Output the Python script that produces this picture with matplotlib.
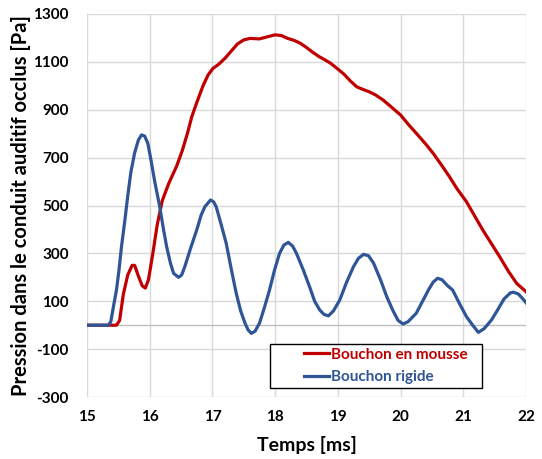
import matplotlib

matplotlib.use("Agg")
import matplotlib.pyplot as plt
from matplotlib.patches import Rectangle

# Bouchon en mousse (foam plug)
t_mousse = [15.0, 15.47, 15.52, 15.58, 15.65, 15.72, 15.76, 15.82, 15.88, 15.93, 15.98,
            16.05, 16.12, 16.2, 16.3, 16.43, 16.52, 16.6, 16.67, 16.75, 16.85, 16.93,
            17.01, 17.1, 17.2, 17.3, 17.4, 17.5, 17.6, 17.75, 17.88, 18.0, 18.1, 18.2,
            18.3, 18.4, 18.5, 18.6, 18.7, 18.77, 18.88, 19.0, 19.1, 19.2, 19.3, 19.4,
            19.5, 19.6, 19.72, 19.85, 20.0, 20.12, 20.25, 20.4, 20.52, 20.65, 20.78,
            20.9, 21.05, 21.18, 21.31, 21.45, 21.58, 21.72, 21.85, 22.0]
p_mousse = [0, 0, 20, 130, 210, 250, 250, 205, 165, 155, 190,
            300, 420, 520, 590, 665, 730, 800, 870, 930, 1000, 1045,
            1073, 1090, 1115, 1145, 1175, 1192, 1198, 1196, 1205, 1213, 1210, 1198,
            1190, 1178, 1160, 1140, 1122, 1112, 1095, 1070, 1048, 1020, 996, 985,
            975, 962, 941, 912, 878, 840, 802, 757, 718, 670, 620,
            570, 516, 457, 398, 340, 286, 225, 175, 140]

# Bouchon rigide (rigid plug)
t_rigide = [15.0, 15.34, 15.38, 15.43, 15.47, 15.51, 15.55, 15.6, 15.65, 15.7, 15.76,
            15.82, 15.87, 15.92, 15.97, 16.02, 16.08, 16.16, 16.22, 16.27, 16.33, 16.38,
            16.46, 16.51, 16.56, 16.65, 16.75, 16.82, 16.88, 16.97, 17.02, 17.06, 17.14,
            17.22, 17.3, 17.38, 17.45, 17.52, 17.57, 17.62, 17.68, 17.75, 17.83, 17.91,
            17.99, 18.07, 18.14, 18.21, 18.28, 18.34, 18.45, 18.55, 18.63, 18.71, 18.78,
            18.85, 18.93, 19.03, 19.14, 19.25, 19.33, 19.41, 19.49, 19.57, 19.68, 19.78,
            19.88, 19.96, 20.04, 20.12, 20.25, 20.35, 20.45, 20.52, 20.59, 20.66, 20.75,
            20.83, 20.95, 21.05, 21.15, 21.24, 21.33, 21.45, 21.55, 21.65, 21.75, 21.8,
            21.88, 21.95, 22.0]
p_rigide = [0, 0, 15, 90, 147, 230, 328, 430, 540, 640, 720,
            774, 795, 790, 760, 690, 600, 495, 400, 328, 260, 217,
            200, 210, 245, 320, 398, 460, 495, 523, 515, 495, 420,
            342, 235, 133, 60, 8, -20, -34, -25, 8, 75, 147,
            230, 300, 335, 346, 330, 300, 230, 160, 100, 64, 45,
            39, 60, 105, 180, 245, 280, 296, 290, 259, 190, 119,
            60, 20, 5, 15, 50, 100, 150, 180, 196, 190, 165,
            147, 85, 36, 0, -30, -15, 22, 65, 110, 135, 138,
            130, 110, 94]

y_ticks = list(range(-300, 1301, 200))
x_ticks = list(range(15, 23))

plt.rcParams["font.family"] = ["Lato", "DejaVu Sans"]
plt.rcParams["axes.unicode_minus"] = False

fig = plt.figure(figsize=(5.42, 4.59), dpi=100)
ax = fig.add_axes([0.1605, 0.135, 0.81, 0.8345])

ax.plot(t_mousse, p_mousse, color="#C00000", lw=2.3, label="Bouchon en mousse", zorder=3)
ax.plot(t_rigide, p_rigide, color="#2F5597", lw=2.3, label="Bouchon rigide", zorder=3)
ax.axhline(0, color="#bfbfbf", lw=1.0, zorder=1)

ax.set_xlim(15, 22)
ax.set_ylim(-300, 1300)
ax.set_xticks(x_ticks)
ax.set_yticks(y_ticks)
ax.grid(True, color="#d9d9d9", lw=1.0, zorder=0)
ax.set_axisbelow(True)
for s in ax.spines.values():
    s.set_visible(False)
ax.tick_params(length=0, labelsize=11, pad=9)
ax.tick_params(axis="y", pad=13)
for lab in ax.get_xticklabels() + ax.get_yticklabels():
    lab.set_fontweight("bold")

ax.set_xlabel("Temps [ms]", fontsize=14, fontweight="bold", labelpad=9)
ax.set_ylabel("Pression dans le conduit auditif occlus [Pa]", fontsize=14.5,
              fontweight="bold", labelpad=2)

# legend box drawn separately so the entries can sit centred inside it
ax.add_patch(Rectangle((0.417, 0.0235), 0.483, 0.1145, transform=ax.transAxes,
                       facecolor="white", edgecolor="black", lw=1.0, zorder=4))
leg = ax.legend(loc="center", bbox_to_anchor=(0.681, 0.081), frameon=False,
                prop={"weight": "bold", "size": 11}, handlelength=1.6,
                handletextpad=0.15, borderpad=0, labelspacing=0.55, borderaxespad=0)
leg.set_zorder(5)
for txt, c in zip(leg.get_texts(), ["#C00000", "#2F5597"]):
    txt.set_color(c)
leg._legend_box.align = "left"

fig.savefig("out.png", dpi=100)
